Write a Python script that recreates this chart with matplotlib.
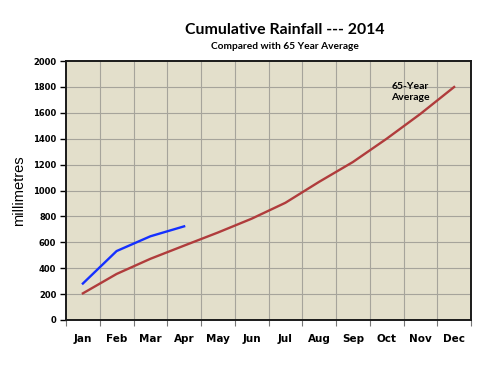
import matplotlib
matplotlib.use("Agg")
from matplotlib import pyplot as plt
import numpy as np

# figure data
months = ["Jan", "Feb", "Mar", "Apr", "May", "Jun", "Jul", "Aug", "Sep", "Oct", "Nov", "Dec"]
avg_65yr = [205, 355, 472, 574, 675, 782, 905, 1067, 1220, 1400, 1592, 1800]
rain_2014 = [281, 532, 646, 723]
yticks = [0, 200, 400, 600, 800, 1000, 1200, 1400, 1600, 1800, 2000]

# figure params
bg_color = "#E3DFCB"
grid_color = "#A6A49B"
blue = "#1530FF"
red = "#B03C3C"

fig = plt.figure(figsize=(5, 3.75), dpi=100)
ax = fig.add_axes([0.132, 0.147, 0.81, 0.69])
ax.set_facecolor(bg_color)

x = np.arange(len(months))
ax.plot(x, avg_65yr, color=red, lw=1.7, zorder=3)
ax.plot(x[:len(rain_2014)], rain_2014, color=blue, lw=1.7, zorder=3)

ax.set_xlim(-0.5, len(months) - 0.5)
ax.set_ylim(0, 2000)

ax.set_xticks(x)
ax.set_xticklabels(months, fontsize=7.5, fontweight="heavy", family="DejaVu Sans")
ax.set_xticks(np.arange(-0.5, len(months)), minor=True)
ax.tick_params(axis="x", which="major", length=0, pad=10)
ax.tick_params(axis="x", which="minor", length=4, width=0.8, color="#777777")

ax.set_yticks(yticks)
ax.set_yticklabels([str(v) for v in yticks], fontsize=6, fontweight="heavy", family="DejaVu Sans")
ax.tick_params(axis="y", length=4, width=1, pad=3)

for v in yticks[1:-1]:
    ax.axhline(v, color=grid_color, lw=0.8, zorder=1)
for v in np.arange(0.5, len(months) - 1):
    ax.axvline(v, color=grid_color, lw=0.8, zorder=1)

for s in ax.spines.values():
    s.set_linewidth(1.4)
    s.set_color("#1a1a1a")

ax.set_ylabel("millimetres", fontsize=10.5, family="Liberation Sans", labelpad=5)

ax.text(9.7, 1760, "65-Year\nAverage", ha="center", va="center", fontsize=7.5,
        fontweight="bold", family="Lato", linespacing=1.3)

fig.text(0.57, 0.92, "Cumulative Rainfall --- 2014", ha="center", va="center",
         fontsize=11.4, fontweight="bold", family="Lato")
fig.text(0.57, 0.877, "Compared with 65 Year Average", ha="center", va="center",
         fontsize=7.3, fontweight="bold", family="Lato")

fig.savefig("out.png", dpi=100, facecolor="white")
